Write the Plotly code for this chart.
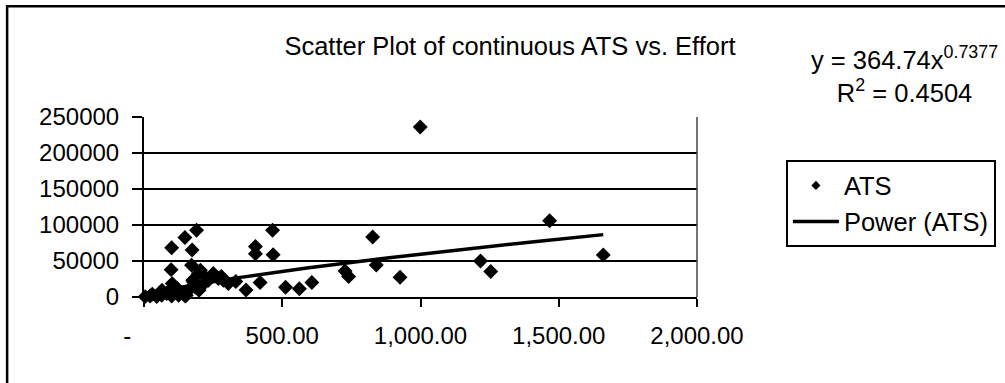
import numpy as np
import plotly.graph_objects as go

# Effort (x) and ATS (y) observations
effort = [999, 1467, 1661, 1217, 1254, 926, 827, 840, 727, 740,
          607, 562, 512, 420, 369, 465, 467, 403, 403, 332,
          190, 148, 100, 174, 98, 172,
          4, 22, 46, 64, 82, 100, 125, 149, 161, 179,
          197, 215, 233, 251, 269, 287, 305, 102, 176, 204,
          199, 153, 65, 30, 120, 185, 210, 90, 140, 280]
ats = [236000, 106000, 58500, 50000, 35500, 27500, 83300, 44500, 36000, 28500,
       20000, 11600, 13500, 20000, 9800, 92600, 58600, 70000, 60000, 21500,
       92600, 82500, 68300, 65300, 38000, 44000,
       500, 1500, 800, 2400, 5000, 1500, 2400, 1500, 9300, 20800,
       32500, 30100, 23200, 32500, 25600, 23200, 18600, 18600, 23200, 37100,
       9300, 2400, 9300, 4000, 12000, 14000, 16000, 8000, 6000, 28500]

# Power trendline y = a * x^b
coef_a = 364.74
coef_b = 0.7377
r_squared = 0.4504

x_ticks = [0, 500, 1000, 1500, 2000]
x_tick_text = ["-\u00a0\u00a0\u00a0\u00a0\u00a0", "500.00", "1,000.00", "1,500.00", "2,000.00"]
y_ticks = [0, 50000, 100000, 150000, 200000, 250000]
y_tick_text = ["0", "50000", "100000", "150000", "200000", "250000"]

W, H = 1005, 383
L, R, T, B = 143.5, 697.0, 116.7, 296.7   # plot area in pixels

def px_x(p):
    return (p - L) / (R - L)

def px_y(p):
    return (B - p) / (B - T)

FONT = "Arial, Liberation Sans, sans-serif"

trend_x = np.linspace(min(effort), max(effort), 200)
trend_y = coef_a * trend_x ** coef_b

fig = go.Figure()
fig.add_trace(go.Scatter(
    x=effort, y=ats, mode="markers", showlegend=False,
    marker=dict(symbol="diamond", size=11.5, color="black", line=dict(width=0)),
    cliponaxis=False,
))
# legend entry for the markers (smaller symbol)
fig.add_trace(go.Scatter(
    x=[None], y=[None], mode="markers", name="ATS",
    marker=dict(symbol="diamond", size=7, color="black"),
))
fig.add_trace(go.Scatter(
    x=trend_x, y=trend_y, mode="lines", name="Power (ATS)",
    line=dict(color="black", width=3.5),
))

fig.update_layout(
    width=W, height=H,
    paper_bgcolor="white", plot_bgcolor="white",
    margin=dict(l=L, r=W - R, t=T, b=H - B, autoexpand=False),
    font=dict(family=FONT, size=24, color="black"),
    title=dict(text="Scatter Plot of continuous ATS vs. Effort",
               x=510 / W, xref="container", xanchor="center",
               y=1 - 46 / H, yref="container", yanchor="middle",
               font=dict(family=FONT, size=25.5, color="black")),
    legend=dict(x=px_x(786), y=px_y(160), xanchor="left", yanchor="top",
                bordercolor="black", borderwidth=2, bgcolor="white",
                font=dict(family=FONT, size=25.5, color="black"),
                tracegroupgap=0, itemwidth=46),
    showlegend=True,
)

fig.update_xaxes(
    range=[0, 2000], tickvals=x_ticks, ticktext=x_tick_text,
    showgrid=False, zeroline=False,
    showline=True, linecolor="black", linewidth=2,
    ticks="outside", ticklen=8, tickwidth=2, tickcolor="black",
    ticklabelstandoff=8,
    tickfont=dict(family=FONT, size=24, color="black"),
)
fig.update_yaxes(
    range=[0, 250000], tickvals=y_ticks, ticktext=y_tick_text,
    showgrid=True, gridcolor="black", gridwidth=2, zeroline=False,
    showline=True, linecolor="black", linewidth=2,
    ticks="outside", ticklen=10, tickwidth=2, tickcolor="black",
    ticklabelstandoff=8,
    tickfont=dict(family=FONT, size=24, color="black"),
)

# right edge of the plot area
fig.add_shape(type="line", xref="paper", yref="paper", x0=1, x1=1, y0=0, y1=1,
              line=dict(color="#444444", width=1.5))
# chart area frame (extends past the canvas on right and bottom)
fig.add_shape(type="rect", xref="paper", yref="paper",
              x0=px_x(6.5), x1=px_x(W + 20), y0=px_y(H + 20), y1=px_y(6),
              line=dict(color="black", width=2.5), fillcolor="rgba(0,0,0,0)",
              layer="below")

# trendline equation and R squared
fig.add_annotation(
    xref="paper", yref="paper", x=px_x(905), y=px_y(74),
    xanchor="center", yanchor="middle", showarrow=False, align="center",
    text=f"y = {coef_a}x<sup>{coef_b}</sup><br>R<sup>2</sup> = {r_squared}",
    font=dict(family=FONT, size=25.5, color="black"),
)

fig.write_html("out.html")
